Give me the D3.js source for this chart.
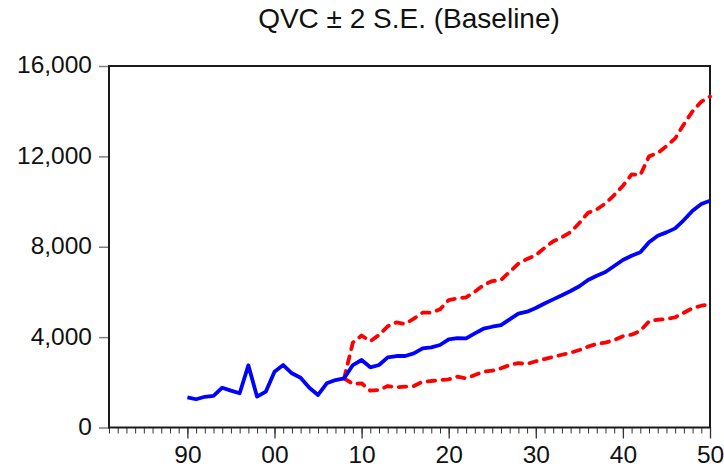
<!DOCTYPE html>
<html>
<head>
<meta charset="utf-8">
<script src="https://cdn.jsdelivr.net/npm/d3@7"></script>
<style>
  body { margin: 0; background: #fff; }
  svg { display: block; font-family: "Liberation Sans", Arial, sans-serif; }
</style>
</head>
<body>
<svg id="chart" width="724" height="469"></svg>
<script>
// history, 1990-2008
const histYears = d3.range(1990, 2009);
const histValues = [1336, 1250, 1360, 1395, 1760, 1630, 1515, 2750, 1365, 1585,
  2470, 2765, 2400, 2205, 1760, 1440, 1955, 2100, 2177];

// forecast and +/- 2 S.E. band, 2008-2050
const fcYears = d3.range(2008, 2051);
const fcValues = [2177, 2765, 2987, 2664, 2765, 3106, 3164, 3164, 3283, 3504,
  3549, 3650, 3903, 3960, 3947, 4168, 4372, 4460, 4535, 4788,
  5040, 5124, 5290, 5490, 5670, 5850, 6040, 6250, 6527, 6717,
  6881, 7146, 7412, 7602, 7752, 8195, 8487, 8637, 8814, 9181,
  9593, 9889, 10035];
const upperValues = [2177, 3760, 4070, 3820, 4093, 4480, 4650, 4580, 4820, 5080,
  5080, 5230, 5642, 5717, 5761, 6009, 6305, 6482, 6527, 6890,
  7250, 7460, 7630, 7950, 8240, 8420, 8650, 9050, 9500, 9655,
  9920, 10288, 10700, 11200, 11180, 12000, 12150, 12450, 12800, 13420,
  14000, 14420, 14650];
const lowerValues = [2177, 1925, 1956, 1628, 1659, 1836, 1779, 1805, 1836, 2027,
  2058, 2102, 2133, 2248, 2177, 2323, 2469, 2513, 2619, 2765,
  2850, 2810, 2930, 3030, 3130, 3220, 3310, 3430, 3580, 3700,
  3760, 3870, 4040, 4110, 4280, 4700, 4770, 4790, 4880, 5080,
  5280, 5390, 5450];

const yTicks = [0, 4000, 8000, 12000, 16000];
const xMajor = [1990, 2000, 2010, 2020, 2030, 2040, 2050];
const title = "QVC \u00b1 2 S.E. (Baseline)";

const svg = d3.select("#chart");
const L = 109, R = 710, T = 66, B = 427.5;

const x = d3.scaleLinear().domain([1981, 2050]).range([L, R]);
const y = d3.scaleLinear().domain([0, 16000]).range([B, T]);

svg.append("text")
  .attr("x", 409).attr("y", 28)
  .attr("text-anchor", "middle")
  .attr("font-size", 28)
  .attr("fill", "#111")
  .text(title);

// y axis
const gy = svg.append("g")
  .attr("transform", `translate(${L},0)`)
  .call(d3.axisLeft(y).tickValues(yTicks).tickSize(10).tickPadding(7)
    .tickFormat(d3.format(",")));
gy.select(".domain").remove();
gy.selectAll(".tick line").attr("stroke", "#808080").attr("stroke-width", 1.5);
gy.selectAll(".tick text")
  .attr("font-size", 24.5).attr("fill", "#111")
  .attr("dy", "0.28em")
  .style("font-family", "'Liberation Sans', Arial, sans-serif");

// x axis: yearly minor ticks + decade ticks with labels
const gxMinor = svg.append("g")
  .attr("transform", `translate(0,${B})`)
  .call(d3.axisBottom(x).tickValues(d3.range(1981, 2051)).tickSize(6).tickFormat(""));
gxMinor.select(".domain").remove();
gxMinor.selectAll(".tick line").attr("stroke", "#333").attr("stroke-width", 1);

const gx = svg.append("g")
  .attr("transform", `translate(0,${B})`)
  .call(d3.axisBottom(x).tickValues(xMajor).tickSize(11).tickPadding(7)
    .tickFormat(d => String(d % 100).padStart(2, "0")));
gx.select(".domain").remove();
gx.selectAll(".tick line").attr("stroke", "#333").attr("stroke-width", 1.3);
gx.selectAll(".tick text")
  .attr("font-size", 24.5).attr("fill", "#111")
  .style("font-family", "'Liberation Sans', Arial, sans-serif");

// frame
svg.append("rect")
  .attr("x", L).attr("y", T)
  .attr("width", R - L).attr("height", B - T)
  .attr("fill", "none")
  .attr("stroke", "#1a1a1a")
  .attr("stroke-width", 2);

const line = d3.line().x(d => x(d[0])).y(d => y(d[1]));

const plot = svg.append("g");

plot.append("path")
  .datum(fcYears.map((yr, i) => [yr, upperValues[i]]))
  .attr("d", line)
  .attr("fill", "none").attr("stroke", "#ff0000")
  .attr("stroke-width", 3.8).attr("stroke-dasharray", "7.5,7.5")
  .attr("stroke-linecap", "round").attr("stroke-linejoin", "round");

plot.append("path")
  .datum(fcYears.map((yr, i) => [yr, lowerValues[i]]))
  .attr("d", line)
  .attr("fill", "none").attr("stroke", "#ff0000")
  .attr("stroke-width", 3.8).attr("stroke-dasharray", "7.5,7.5")
  .attr("stroke-linecap", "round").attr("stroke-linejoin", "round");

plot.append("path")
  .datum(histYears.map((yr, i) => [yr, histValues[i]])
    .concat(fcYears.slice(1).map((yr, i) => [yr, fcValues[i + 1]])))
  .attr("d", line)
  .attr("fill", "none").attr("stroke", "#0000ff")
  .attr("stroke-width", 3.8)
  .attr("stroke-linejoin", "round");
</script>
</body>
</html>
